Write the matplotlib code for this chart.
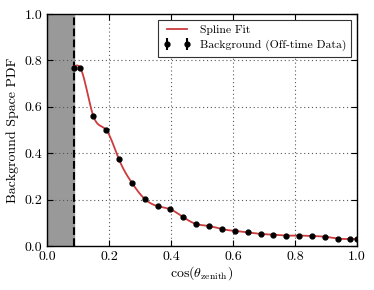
import numpy as np
import matplotlib
matplotlib.use("Agg")
import matplotlib.pyplot as plt

plt.rcParams.update({
    "font.family": "serif",
    "font.serif": ["cmr10"],
    "mathtext.fontset": "cm",
    "axes.formatter.use_mathtext": True,
    "font.size": 10,
    "xtick.direction": "in",
    "ytick.direction": "in",
    "xtick.top": True,
    "ytick.right": True,
})

cut = 0.0872
cos_zen = [0.0872, 0.108, 0.149, 0.191, 0.232, 0.274, 0.315, 0.357, 0.398, 0.440,
           0.481, 0.523, 0.564, 0.606, 0.647, 0.689, 0.730, 0.772, 0.813, 0.855,
           0.896, 0.938, 0.979, 1.0]
pdf_vals = [0.766, 0.766, 0.562, 0.500, 0.374, 0.272, 0.203, 0.172, 0.158, 0.124,
            0.095, 0.086, 0.073, 0.065, 0.059, 0.052, 0.049, 0.045, 0.045, 0.043,
            0.040, 0.032, 0.030, 0.030]
errs = [0.005] * len(cos_zen)


def natural_spline(x, y, xs):
    x = np.asarray(x, float); y = np.asarray(y, float)
    n = len(x)
    h = np.diff(x)
    A = np.zeros((n, n)); b = np.zeros(n)
    A[0, 0] = A[-1, -1] = 1
    for i in range(1, n - 1):
        A[i, i - 1] = h[i - 1]
        A[i, i] = 2 * (h[i - 1] + h[i])
        A[i, i + 1] = h[i]
        b[i] = 3 * ((y[i + 1] - y[i]) / h[i] - (y[i] - y[i - 1]) / h[i - 1])
    c = np.linalg.solve(A, b)
    idx = np.clip(np.searchsorted(x, xs) - 1, 0, n - 2)
    dx = xs - x[idx]
    bb = (y[idx + 1] - y[idx]) / h[idx] - h[idx] * (2 * c[idx] + c[idx + 1]) / 3
    d = (c[idx + 1] - c[idx]) / (3 * h[idx])
    return y[idx] + bb * dx + c[idx] * dx ** 2 + d * dx ** 3


fit_x = np.array(cos_zen[1:])
fit_y = np.array(pdf_vals[1:])
xs = np.linspace(cut, 1.0, 400)
ys = natural_spline(np.r_[cut, fit_x], np.r_[0.774, fit_y], xs)

fig = plt.figure(figsize=(3.74, 2.90), dpi=100)
ax = fig.add_axes([0.1257, 0.1517, 0.8288, 0.8])

ax.axvspan(0, cut, color="#999999", zorder=1)
ax.axvline(cut, color="black", ls="--", lw=1.5, zorder=2)
ax.plot(xs, ys, color="#cc3b3d", lw=1.3, label="Spline Fit", zorder=3)
ax.errorbar(cos_zen, pdf_vals, yerr=errs, fmt="o", color="black", ms=3.5,
            label="Background (Off-time Data)", zorder=4)

ax.set_xlim(0, 1)
ax.set_ylim(0, 1)
ax.set_xticks([0, 0.2, 0.4, 0.6, 0.8, 1.0])
ax.set_yticks([0, 0.2, 0.4, 0.6, 0.8, 1.0])
ax.xaxis.set_major_formatter(matplotlib.ticker.FormatStrFormatter("%.1f"))
ax.yaxis.set_major_formatter(matplotlib.ticker.FormatStrFormatter("%.1f"))
ax.grid(True, color="0.35", ls=(0, (1, 2.5)), lw=0.8)
ax.tick_params(length=4, width=0.8)
for s in ax.spines.values():
    s.set_linewidth(1.0)

ax.set_xlabel(r"$\cos(\theta_{\rm zenith})$", labelpad=1)
ax.set_ylabel("Background Space PDF", labelpad=4)

leg = ax.legend(loc="upper right", fontsize=8.4, numpoints=2, fancybox=False,
                framealpha=1, edgecolor="0.2", borderaxespad=0.5,
                handlelength=2.3, borderpad=0.45, labelspacing=0.4)
leg.get_frame().set_linewidth(0.8)

fig.savefig("out.png", dpi=100)
